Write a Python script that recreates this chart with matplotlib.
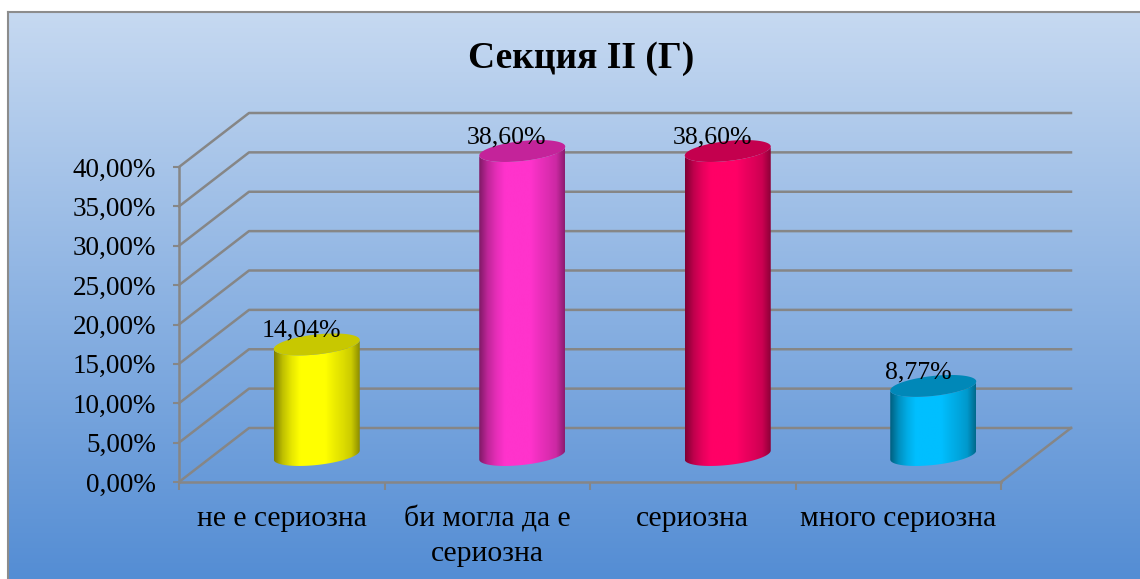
import numpy as np
import matplotlib
matplotlib.use('Agg')
import matplotlib.pyplot as plt
from matplotlib.patches import Polygon

plt.rcParams['font.family'] = ['Liberation Serif', 'DejaVu Serif']

categories = ['не е сериозна', 'би могла да е\nсериозна', 'сериозна', 'много сериозна']
values = [14.04, 38.60, 38.60, 8.77]
value_labels = ['14,04%', '38,60%', '38,60%', '8,77%']
yticks = [0, 5, 10, 15, 20, 25, 30, 35, 40]
ytick_labels = ['0,00%', '5,00%', '10,00%', '15,00%', '20,00%', '25,00%', '30,00%', '35,00%', '40,00%']
body_colors = ['#ffff00', '#ff33cc', '#ff0066', '#00bfff']
top_colors = ['#c8c800', '#c4239a', '#c4004e', '#0088b8']

W, H = 1140, 579
GRID = '#868686'

fig = plt.figure(figsize=(W / 100, H / 100), dpi=100)

# background gradient, white margin at top and left
bg = fig.add_axes([8 / W, 0, 1 - 8 / W, 1 - 12 / H], zorder=0)
top = np.array([198, 217, 241]) / 255
bottom = np.array([84, 141, 212]) / 255
t = np.linspace(0, 1, 256)[:, None, None]
bg.imshow(top + (bottom - top) * t, aspect='auto', extent=[0, 1, 0, 1])
bg.set_xticks([])
bg.set_yticks([])
for s in ['right', 'bottom']:
    bg.spines[s].set_visible(False)
for s in ['left', 'top']:
    bg.spines[s].set_color('#8c8c8c')
    bg.spines[s].set_linewidth(1.5)

# front plane of the 3d box, in pixels
left, right, y0, y40 = 179, 1001, 482, 167
ax = fig.add_axes([left / W, 1 - y0 / H, (right - left) / W, (y0 - y40) / H], zorder=1)
ax.patch.set_alpha(0)

px_x = 4 / (right - left)
px_y = 40 / (y0 - y40)
depth_x = 70 * px_x
depth_y = 54 * px_y

# walls and floor
for v in yticks:
    ax.plot([0, depth_x, 4 + depth_x], [v, v + depth_y, v + depth_y], color=GRID, lw=1.8, clip_on=False, zorder=1)
ax.plot([4, 4 + depth_x], [0, depth_y], color=GRID, lw=1.8, clip_on=False, zorder=1)

# cylinders
tt = np.linspace(0, 2 * np.pi, 120)
half_w = 43 * px_x
tilt = 4.5 * px_y
half_h = 10 * px_y
shade = np.array([0.5, 0.75, 0.9, 1, 1, 1, 1, 0.93, 0.87, 0.8, 0.55])

for i, v in enumerate(values):
    cx = i + 0.5 + depth_x / 2
    base = depth_y / 2
    a = np.linspace(np.pi, 2 * np.pi, 60)
    # bottom front edge, then back along the top edge
    ex = cx + half_w * np.cos(a)
    ey = tilt * np.cos(a) + half_h * np.sin(a)
    xs = np.r_[ex, ex[::-1]]
    ys = np.r_[base + ey, base + v + ey[::-1]]
    body = Polygon(np.c_[xs, ys], closed=True, transform=ax.transData, fc='none', ec='none')
    ax.add_patch(body)
    col = np.array(matplotlib.colors.to_rgb(body_colors[i]))
    grad = np.interp(np.linspace(0, 1, 200), np.linspace(0, 1, len(shade)), shade)
    img = grad[None, :, None] * col[None, None, :]
    im = ax.imshow(img, aspect='auto', extent=[cx - half_w, cx + half_w, base - 3, base + v + 3], zorder=3)
    im.set_clip_path(body)
    im.set_clip_box(fig.bbox)
    ax.fill(cx + half_w * np.cos(tt), base + v + tilt * np.cos(tt) + half_h * np.sin(tt),
            color=top_colors[i], lw=0, clip_on=False, zorder=4)
    ax.annotate(value_labels[i], (cx, base + v), xytext=(-11, 10), textcoords='offset points',
                ha='center', va='center', fontsize=18.5, color='black', zorder=5, annotation_clip=False)

ax.set_xlim(0, 4)
ax.set_ylim(0, 40)

for s in ['top', 'right']:
    ax.spines[s].set_visible(False)
for s in ['left', 'bottom']:
    ax.spines[s].set_color(GRID)
    ax.spines[s].set_linewidth(1.8)
    ax.spines[s].set_zorder(2)

ax.set_yticks(yticks)
ax.set_yticklabels(ytick_labels, fontsize=19.5)
ax.set_xticks(range(5))
ax.set_xticklabels([])
ax.set_xticks(np.arange(4) + 0.5, labels=categories, minor=True, fontsize=21.3, linespacing=1.4)
ax.tick_params(axis='x', which='major', length=6, width=1.5, color=GRID)
ax.tick_params(axis='x', which='minor', length=0, pad=17)
ax.tick_params(axis='y', length=4.5, width=1.5, color=GRID, pad=12)

fig.text(581 / W, 1 - 58 / H, 'Секция II (Г)', ha='center', va='center', fontsize=27, fontweight='bold')

fig.savefig('out.png', dpi=100)
